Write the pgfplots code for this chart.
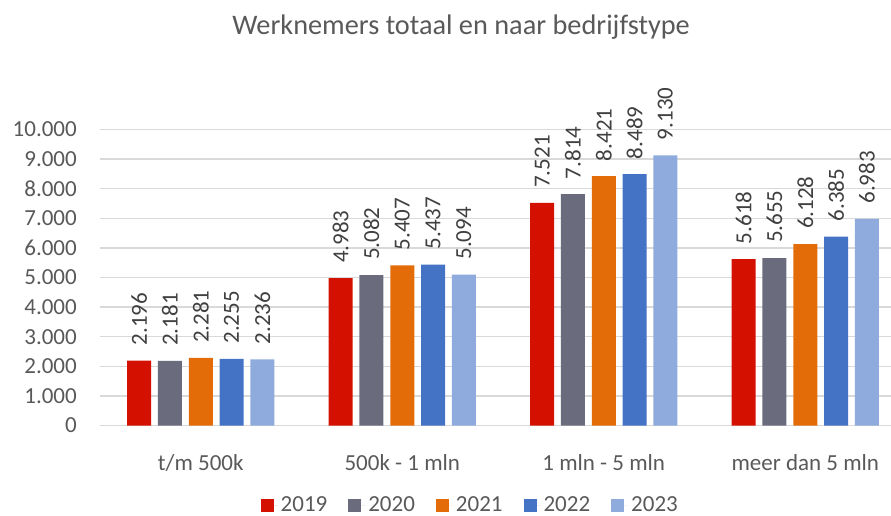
\documentclass[border=0pt]{standalone}
\usepackage{pgfplots}
\pgfplotsset{compat=1.18}
\usepackage{fontspec}
\setmainfont{Carlito}
\definecolor{c19}{HTML}{D41000}
\definecolor{c20}{HTML}{6B6B7E}
\definecolor{c21}{HTML}{E36C09}
\definecolor{c22}{HTML}{4472C4}
\definecolor{c23}{HTML}{8FAADC}
\definecolor{txt}{HTML}{595959}
\definecolor{lbl}{HTML}{404040}
\definecolor{gridc}{HTML}{D9D9D9}
\newcommand{\fs}{\fontsize{23}{28}\selectfont}
\begin{document}
\begin{tikzpicture}
\path[use as bounding box] (-100pt,-89.5pt) rectangle (791pt,425.5pt);
\begin{axis}[
  at={(0pt,0pt)}, anchor=south west,
  scale only axis, width=806pt, height=296pt,
  xmin=-0.5, xmax=3.5, ymin=0, ymax=10000,
  ybar=6.8pt, bar width=24pt,
  axis line style={draw=none},
  major tick length=0pt,
  xtick={0,1,2,3},
  xticklabels={t/m 500k, 500k - 1 mln, 1 mln - 5 mln, meer dan 5 mln},
  ytick distance=1000,
  scaled y ticks=false,
  ymajorgrids,
  grid style={gridc, line width=1.3pt},
  /pgf/number format/.cd, 1000 sep={.}, assume math mode=true, /pgfplots/.cd,
  tick label style={font=\fs, text=txt, inner sep=0pt},
  yticklabel style={anchor=east, xshift=-23pt},
  xticklabel style={anchor=base, yshift=-44.5pt},
  nodes near coords={\pgfmathprintnumber[1000 sep={.},assume math mode=true]{\pgfplotspointmeta}},
  every node near coord/.append style={rotate=90, anchor=west, font=\fs, text=lbl, inner xsep=15pt, inner ysep=0pt},
  legend style={at={(axis description cs:0.460,-0.2686)}, anchor=center, draw=none, fill=none,
    legend columns=5, font=\fs, text=txt,
    /tikz/every even column/.append style={column sep=18pt},
    nodes={inner xsep=3pt, inner ysep=0pt}},
  legend image code/.code={\path (0pt,0pt) -- (17pt,0pt); \fill[#1] (0pt,-6.5pt) rectangle (13pt,6.5pt);},
]
\addplot[fill=c19, draw=none] coordinates {(0,2196) (1,4983) (2,7521) (3,5618)};
\addplot[fill=c20, draw=none] coordinates {(0,2181) (1,5082) (2,7814) (3,5655)};
\addplot[fill=c21, draw=none] coordinates {(0,2281) (1,5407) (2,8421) (3,6128)};
\addplot[fill=c22, draw=none] coordinates {(0,2255) (1,5437) (2,8489) (3,6385)};
\addplot[fill=c23, draw=none] coordinates {(0,2236) (1,5094) (2,9130) (3,6983)};
\legend{2019,2020,2021,2022,2023}
\end{axis}
\node[font=\fontsize{28.3}{34}\selectfont, text=txt, anchor=base] at (361pt,390.5pt) {Werknemers totaal en naar bedrijfstype};
\end{tikzpicture}
\end{document}
